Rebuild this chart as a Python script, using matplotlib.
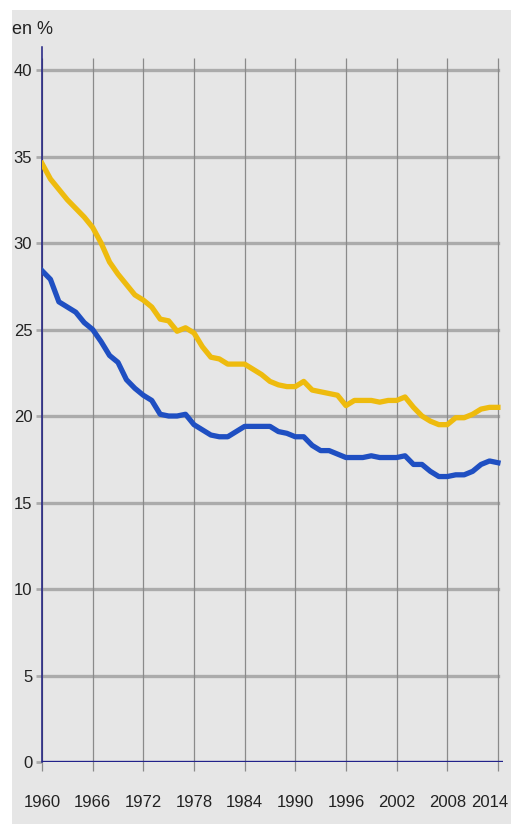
import matplotlib
matplotlib.use("Agg")
from matplotlib import pyplot as plt
from matplotlib.patches import Rectangle
from matplotlib.transforms import ScaledTranslation

years = list(range(1960, 2015))

yellow = [34.6, 33.7, 33.1, 32.5, 32.0, 31.5, 30.9, 30.0, 28.9, 28.2,
          27.6, 27.0, 26.7, 26.3, 25.6, 25.5, 24.9, 25.1, 24.8, 24.0,
          23.4, 23.3, 23.0, 23.0, 23.0, 22.7, 22.4, 22.0, 21.8, 21.7,
          21.7, 22.0, 21.5, 21.4, 21.3, 21.2, 20.6, 20.9, 20.9, 20.9,
          20.8, 20.9, 20.9, 21.1, 20.5, 20.0, 19.7, 19.5, 19.5, 19.9,
          19.9, 20.1, 20.4, 20.5, 20.5]

blue = [28.4, 27.9, 26.6, 26.3, 26.0, 25.4, 25.0, 24.3, 23.5, 23.1,
        22.1, 21.6, 21.2, 20.9, 20.1, 20.0, 20.0, 20.1, 19.5, 19.2,
        18.9, 18.8, 18.8, 19.1, 19.4, 19.4, 19.4, 19.4, 19.1, 19.0,
        18.8, 18.8, 18.3, 18.0, 18.0, 17.8, 17.6, 17.6, 17.6, 17.7,
        17.6, 17.6, 17.6, 17.7, 17.2, 17.2, 16.8, 16.5, 16.5, 16.6,
        16.6, 16.8, 17.2, 17.4, 17.3]

xticks = list(range(1960, 2015, 6))
yticks = list(range(0, 45, 5))

FONT = ['Liberation Sans Narrow', 'Liberation Sans']

fig = plt.figure(figsize=(5.11, 8.24), dpi=100, facecolor='white')
bg = Rectangle((12 / 511, 0), 1, (824 - 10) / 824, transform=fig.transFigure,
               facecolor='#e6e6e6', edgecolor='none', zorder=-10)
fig.add_artist(bg)

ax = fig.add_axes([42 / 511, (824 - 762) / 824, (503 - 42) / 511, (762 - 47) / 824])
ax.set_zorder(1)
ax.set_facecolor('none')
ax.set_xlim(1960, 2014.6)
ax.set_ylim(0, 41.33)

# grid
for y in yticks[1:]:
    ax.axhline(y, xmin=0, xmax=(2014 - 1960) / 54.6, color='#ababab', lw=2.4, zorder=1)
ax.vlines(xticks, -0.5, 40.7, color='#8a8a8a', lw=0.9, zorder=1, clip_on=False)

ax.plot(years, yellow, color='#eebb0e', lw=3.8, solid_joinstyle='round', zorder=3)
ax.plot(years, blue, color='#1f4fc2', lw=3.8, solid_joinstyle='round', zorder=3)

ax.axhline(0, color='#22228a', lw=2.4, zorder=4)

for s in ['top', 'right', 'bottom']:
    ax.spines[s].set_visible(False)
ax.spines['left'].set_color('#1c1c80')
ax.spines['left'].set_linewidth(1.1)

ax.set_xticks(xticks)
ax.set_yticks(yticks)
ax.tick_params(axis='x', length=0, pad=24, labelsize=12, labelcolor='#222222')
ax.tick_params(axis='y', length=4, width=2, color='#ababab', pad=3,
               labelsize=12, labelcolor='#222222')
for lab in ax.get_xticklabels() + ax.get_yticklabels():
    lab.set_family(FONT)

# keep the last year label inside the picture
last = ax.get_xticklabels()[-1]
last.set_transform(last.get_transform() + ScaledTranslation(-8 / 100, 0, fig.dpi_scale_trans))

fig.text(12 / 511, (824 - 30) / 824, 'en %', family=FONT, fontsize=13,
         color='#222222', va='center', ha='left')

fig.savefig('out.png', dpi=100, facecolor='white')
